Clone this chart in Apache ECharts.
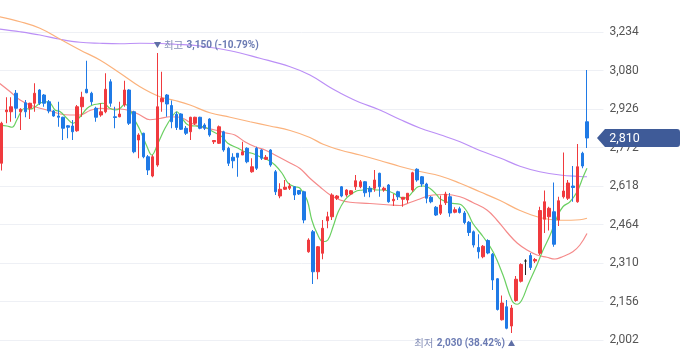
<!DOCTYPE html>
<html><head><meta charset="utf-8">
<script src="https://cdn.jsdelivr.net/npm/echarts@6/dist/echarts.min.js"></script>
<style>html,body{margin:0;padding:0;background:#fff}#c{width:680px;height:358px}</style>
</head><body><div id="c"></div>
<script>
// Daily candles: [open, close, low, high]
const candles = [
[2709,2869,2680,2875],[2915,2922,2869,2973],[2915,2935,2875,2973],[2989,2929,2889,3002],[2915,2925,2842,2929],
[2951,2915,2893,2962],[2929,2949,2886,2951],[2949,2989,2915,3029],[3002,2949,2942,3005],[2982,2949,2935,2986],
[2955,2918,2909,2962],[2918,2898,2895,2922],[2898,2893,2855,2955],[2893,2849,2802,2895],[2859,2853,2809,2862],
[2858,2835,2802,2882],[2839,2935,2835,2942],[2935,2973,2895,2995],[3005,2991,2989,3119],[2989,2955,2942,2995],
[2929,2893,2875,2935],[2902,2915,2895,2949],[2915,3005,2909,3069],[3035,2949,2935,3045],[2895,2892,2849,2935],
[2895,2906,2893,2955],[2942,3002,2935,3039],[3002,2869,2862,3005],[2915,2755,2749,2919],[2802,2822,2729,2829],
[2829,2735,2729,2831],[2735,2682,2662,2742],[2658,2735,2653,2742],[2702,2935,2695,3150],[2955,2969,2915,3075],
[2982,2946,2895,2986],[2940,2875,2849,2960],[2905,2852,2842,2915],[2906,2845,2842,2909],[2849,2829,2822,2858],
[2835,2893,2802,2895],[2869,2893,2862,2895],[2893,2849,2845,2895],[2862,2849,2842,2869],[2886,2822,2815,2889],
[2795,2800,2786,2802],[2789,2855,2786,2860],[2835,2762,2755,2839],[2769,2709,2698,2775],[2733,2719,2689,2749],
[2749,2733,2655,2749],[2742,2755,2742,2795],[2769,2715,2709,2773],[2675,2695,2671,2729],[2769,2689,2682,2775],
[2762,2729,2722,2765],[2725,2733,2722,2742],[2762,2702,2695,2765],[2675,2595,2582,2682],[2578,2605,2569,2629],
[2605,2613,2602,2642],[2609,2618,2602,2629],[2615,2582,2562,2618],[2600,2586,2582,2602],[2595,2482,2469,2599],
[2355,2402,2351,2409],[2435,2275,2226,2442],[2275,2375,2245,2378],[2349,2449,2325,2482],[2479,2495,2449,2515],
[2495,2582,2482,2589],[2569,2578,2562,2582],[2615,2578,2573,2618],[2582,2602,2575,2605],[2586,2599,2582,2602],
[2615,2639,2602,2662],[2615,2635,2609,2642],[2635,2591,2575,2638],[2609,2595,2573,2618],[2609,2642,2595,2682],
[2669,2615,2575,2671],[2602,2609,2595,2615],[2622,2555,2551,2626],[2559,2565,2538,2586],[2595,2575,2562,2599],
[2565,2573,2535,2573],[2562,2589,2549,2589],[2602,2671,2595,2675],[2685,2642,2635,2689],[2655,2626,2615,2658],
[2626,2569,2549,2631],[2573,2555,2549,2578],[2533,2502,2498,2538],[2509,2542,2502,2580],[2551,2586,2542,2595],
[2575,2510,2495,2590],[2513,2523,2509,2533],[2527,2512,2508,2535],[2510,2472,2465,2518],[2473,2432,2418,2478],
[2435,2382,2372,2440],[2372,2355,2328,2425],[2335,2377,2329,2382],[2400,2350,2345,2405],[2345,2242,2202,2350],
[2247,2124,2120,2250],[2083,2150,2080,2180],[2135,2049,2045,2162],[2058,2130,2030,2142],[2160,2245,2155,2258],
[2237,2304,2232,2309],[2318,2318,2262,2325],[2340,2292,2282,2350],[2318,2324,2310,2330],[2349,2520,2342,2535],
[2485,2555,2430,2600],[2495,2529,2440,2535],[2515,2385,2375,2632],[2482,2559,2458,2575],[2575,2598,2568,2752],
[2569,2630,2562,2642],[2618,2612,2555,2698],[2555,2695,2551,2786],[2749,2698,2689,2755],[2875,2810,2770,3082]
];
const emptySlots = 3;

// Moving averages: [candle index, value]
const ma5 = [[-0.4,2862],[1.1,2858],[2.2,2853],[3.2,2882],[4.1,2915],[4.9,2929],[6.0,2925],[7.1,2935],[8.1,2949],[9.2,2955],[10.2,2951],[11.3,2922],[12.4,2915],[13.8,2889],[15.1,2869],[16.6,2895],[18.1,2929],[19.3,2942],[20.4,2946],[21.5,2949],[22.9,2929],[24.0,2922],[25.1,2929],[26.1,2946],[27.2,2922],[28.2,2882],[29.3,2842],[30.8,2775],[31.8,2742],[33.1,2789],[34.6,2849],[36.1,2895],[37.1,2915],[38.2,2889],[39.5,2862],[41.0,2858],[43.1,2853],[44.8,2835],[46.7,2815],[47.9,2789],[50.1,2769],[51.5,2755],[53.0,2749],[54.7,2735],[56.4,2722],[57.9,2702],[59.4,2669],[60.7,2629],[62.1,2615],[63.2,2609],[64.7,2562],[65.7,2482],[66.8,2429],[68.1,2395],[69.1,2402],[70.2,2455],[71.3,2515],[72.7,2562],[73.8,2582],[75.3,2599],[76.5,2602],[78.0,2609],[79.5,2602],[80.8,2602],[82.3,2595],[83.7,2582],[85.0,2569],[86.1,2575],[87.1,2595],[88.2,2615],[89.3,2618],[90.7,2609],[92.2,2582],[92.9,2566],[95.0,2550],[97.1,2545],[98.6,2515],[99.8,2469],[102.0,2415],[104.1,2355],[106.2,2262],[108.1,2160],[109.2,2145],[110.2,2162],[111.5,2222],[113.4,2302],[114.7,2362],[116.2,2422],[117.7,2495],[118.9,2535],[120.4,2555],[121.9,2595],[123.2,2655],[124.0,2689]];
const ma20 = [[-0.4,3028],[1.8,2995],[3.9,2962],[6.0,2942],[8.1,2929],[10.2,2919],[12.4,2906],[14.5,2902],[16.6,2902],[18.7,2920],[20.8,2929],[22.9,2926],[25.1,2926],[27.2,2919],[29.3,2902],[31.4,2883],[33.5,2888],[35.7,2895],[37.8,2893],[39.9,2872],[42.0,2855],[45.2,2842],[47.3,2831],[49.4,2822],[51.5,2795],[53.7,2775],[55.8,2762],[57.9,2742],[61.1,2710],[63.2,2688],[65.3,2649],[67.4,2615],[69.6,2582],[71.7,2562],[73.8,2553],[78.0,2548],[82.3,2542],[84.4,2540],[86.5,2552],[88.6,2566],[90.7,2580],[93.9,2584],[97.1,2575],[99.8,2552],[102.8,2522],[104.9,2482],[107.1,2432],[109.2,2390],[111.3,2362],[113.4,2342],[115.5,2333],[117.2,2326],[118.9,2336],[121.0,2355],[122.5,2382],[124.0,2428]];
const ma60 = [[-0.4,3295],[3.9,3275],[8.1,3249],[12.4,3205],[16.6,3162],[20.8,3122],[25.1,3069],[29.3,3015],[33.5,2975],[36.7,2960],[39.9,2942],[44.1,2911],[48.4,2893],[52.6,2875],[56.8,2858],[61.1,2840],[65.3,2812],[68.1,2785],[71.7,2762],[75.9,2742],[80.1,2720],[84.4,2696],[88.6,2676],[92.9,2658],[97.1,2629],[101.3,2595],[105.6,2560],[109.8,2520],[114.0,2492],[118.3,2481],[122.5,2483],[124.0,2489]];
const ma120 = [[-0.4,3246],[3.9,3235],[8.1,3222],[12.4,3205],[16.6,3193],[20.8,3189],[25.1,3187],[29.3,3189],[33.5,3188],[36.7,3185],[42.0,3178],[48.4,3159],[54.7,3129],[61.1,3095],[65.3,3062],[69.6,3012],[71.7,2990],[73.8,2970],[75.9,2952],[80.1,2922],[84.4,2884],[88.6,2850],[92.9,2823],[97.1,2795],[101.3,2760],[105.6,2730],[109.8,2697],[114.0,2675],[118.3,2662],[122.5,2656],[124.0,2655]];

const yMin = 1848, yMax = 3388, yStep = 154;
const highMark = {index: 33, value: 3150, name: '최고', text: '3,150 (-10.79%)'};
const lowMark = {index: 108, value: 2030, name: '최저', text: '2,030 (38.42%)'};
const lastPrice = {index: 124, value: 2810, text: '2,810'};

const fmt = v => String(v).replace(/\B(?=(\d{3})+(?!\d))/g, ',');
const nSlots = candles.length + emptySlots;
const cats = Array.from({length: nSlots}, (_, i) => String(i));
const FONT = 'Roboto, "Noto Sans CJK KR", sans-serif';
const KFONT = '"Noto Sans CJK KR", sans-serif';
const RED = '#f03a3e', BLUE = '#1f7ae6';
const richStyle = {
  a: {color: '#8791b9', fontSize: 10.5, fontFamily: KFONT},
  b: {color: '#6b7bb3', fontSize: 10, fontWeight: 'bold', fontFamily: FONT}
};

const chart = echarts.init(document.getElementById('c'), null, {renderer: 'canvas'});
const lineSeries = (data, color) => ({
  type: 'line', xAxisIndex: 1, yAxisIndex: 0, data, smooth: 0.4, symbol: 'none',
  lineStyle: {color, width: 1.2}, z: 3, silent: true
});
chart.setOption({
  animation: false,
  grid: {left: -0.66, top: -6.5, width: 604.16, height: 385, containLabel: false, outerBoundsMode: 'none'},
  xAxis: [
    {type: 'category', data: cats, boundaryGap: true, show: false},
    {type: 'value', min: -0.5, max: nSlots - 0.5, show: false}
  ],
  yAxis: {
    type: 'value', position: 'right', min: yMin, max: yMax, interval: yStep, scale: true,
    axisLine: {show: false}, axisTick: {show: false},
    splitLine: {lineStyle: {color: '#eef0f5', width: 1}},
    axisLabel: {color: '#555', fontSize: 12, fontFamily: FONT, margin: 6, formatter: v => fmt(v),
      showMinLabel: false, showMaxLabel: false}
  },
  series: [
    lineSeries(ma120, '#bb8ff6'),
    lineSeries(ma60, '#fbb27c'),
    lineSeries(ma20, '#f58a8a'),
    lineSeries(ma5, '#6bd062'),
    {
      type: 'candlestick', data: candles, barWidth: 3, z: 4,
      itemStyle: {color: RED, color0: BLUE, borderColor: RED, borderColor0: BLUE, borderColorDoji: '#222', borderWidth: 1},
      markPoint: {
        silent: true, animation: false,
        data: [
          {coord: [highMark.index, highMark.value], symbol: 'triangle', symbolRotate: 180, symbolSize: [7, 6], symbolOffset: [0, -8],
            itemStyle: {color: '#5f6fa6'},
            label: {show: true, position: 'right', distance: 3, formatter: '{a|' + highMark.name + '} {b|' + highMark.text + '}', rich: richStyle}},
          {coord: [lowMark.index, lowMark.value], symbol: 'triangle', symbolSize: [7, 6], symbolOffset: [0, 10],
            itemStyle: {color: '#5f6fa6'},
            label: {show: true, position: 'left', distance: 3, formatter: '{a|' + lowMark.name + '} {b|' + lowMark.text + '}', rich: richStyle}},
          {coord: [lastPrice.index, lastPrice.value], symbol: 'path://M0,9L8,0L80,0Q83,0,83,3L83,15Q83,18,80,18L8,18Z',
            symbolKeepAspect: false, symbolSize: [83, 18], symbolOffset: [51.5, 0],
            itemStyle: {color: '#3f5b98'},
            label: {show: true, position: 'inside', offset: [-14, 1], formatter: lastPrice.text, color: '#fff', fontSize: 12.5, fontFamily: FONT}}
        ]
      }
    }
  ]
});
</script></body></html>
